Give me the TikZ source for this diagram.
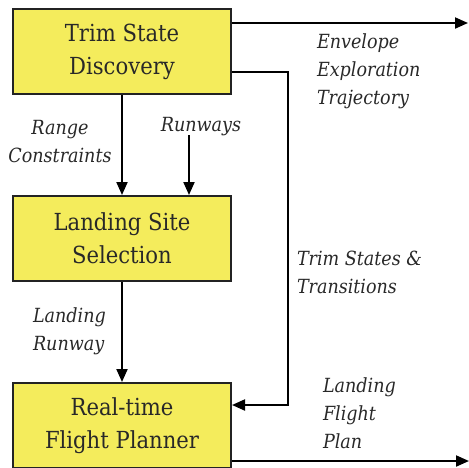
\documentclass[tikz,border=0pt]{standalone}
\usepackage{fontspec}
\setmainfont{DejaVu Serif Condensed}
\definecolor{boxyellow}{RGB}{244,236,92}
\definecolor{boxedge}{RGB}{35,35,35}
\definecolor{inkgray}{RGB}{40,40,40}
\usetikzlibrary{positioning,arrows.meta}

\begin{document}
\begin{tikzpicture}[x=1pt,y=-1pt,
    line width=2pt,
    every node/.style={inner sep=0pt,text=inkgray},
    block/.style={draw=boxedge,fill=boxyellow,minimum width=218pt,minimum height=85pt,
        align=center,font=\fontsize{23.5}{33}\selectfont},
    lbl/.style={font=\itshape\fontsize{19.5}{28}\selectfont},
    flow/.style={-{Triangle[length=13pt,width=11pt]}},
    node distance=100pt
    ]
    \useasboundingbox (0,0) rectangle (469,467);

    \node (tsd) [block] at (122,51.5) {Trim State\\Discovery};
    \node (lss) [block,below=of tsd] {Landing Site\\Selection};
    \node (rfp) [block,below=of lss] {Real-time\\Flight Planner};

    % free ends and bends
    \coordinate (envend) at (468,23);
    \coordinate (bend) at (288,72);
    \coordinate (corner) at (288,405);
    \coordinate (rwy) at (189,135);
    \coordinate (planend) at (469,461);

    % the connectors
    \draw[flow] (tsd.east |- envend) -- (envend);
    \draw[flow] (tsd.east |- bend) -- (bend) -- (corner) -- (rfp.east |- corner);
    \draw[flow] (tsd) -- (lss);
    \draw[flow] (rwy) -- (rwy |- lss.north);
    \draw[flow] (lss) -- (rfp);
    \draw[flow] (rfp.east |- planend) -- (planend);

    % the labels
    \node (envlbl) [lbl,align=left,anchor=north west] at (316,33) {Envelope\\Exploration\\Trajectory};
    \node (rangelbl) [lbl,align=center,anchor=north] at (60,119) {Range\\Constraints};
    \node (rwylbl) [lbl,anchor=north] at (201,116) {Runways};
    \node (trimlbl) [lbl,align=left,anchor=north west] at (296,250) {Trim States \&\\Transitions};
    \node (rwlbl) [lbl,align=left,anchor=north west] at (32,307) {Landing\\Runway};
    \node (planlbl) [lbl,align=left,anchor=north west] at (322,377) {Landing\\Flight\\Plan};
\end{tikzpicture}
\end{document}
